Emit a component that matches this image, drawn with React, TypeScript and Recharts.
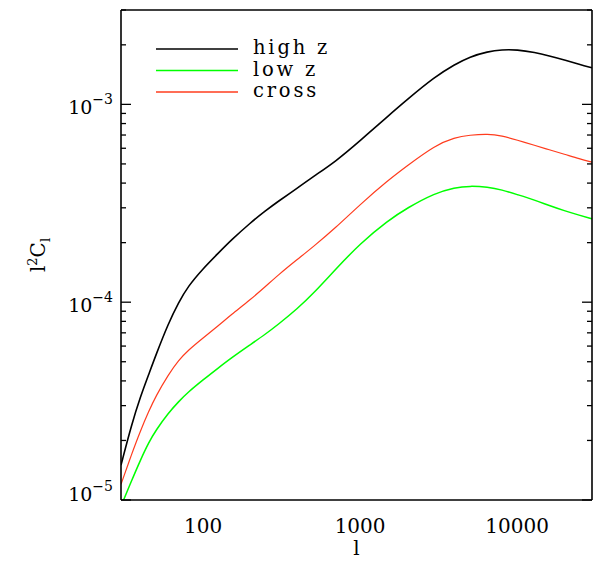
import { Legend, Line, LineChart, XAxis, YAxis } from "recharts";

// multipole values l
const ells = [
  30, 35, 40, 45, 50, 60, 70, 80, 100, 125, 150, 200, 250, 300, 400, 500, 700, 1000, 1500, 2000, 3000,
  4000, 5000, 6500, 8000, 10000, 13000, 16000, 20000, 25000, 30000,
];

// l^2 C_l for each bin
const highZ = [
  1.5e-5, 2.4e-5, 3.35e-5, 4.3e-5, 5.4e-5, 7.8e-5, 1.0e-4, 1.2e-4, 1.48e-4, 1.77e-4, 2.05e-4, 2.52e-4,
  2.9e-4, 3.23e-4, 3.78e-4, 4.3e-4, 5.15e-4, 6.55e-4, 8.7e-4, 1.06e-3, 1.38e-3, 1.59e-3, 1.74e-3,
  1.85e-3, 1.89e-3, 1.89e-3, 1.83e-3, 1.76e-3, 1.68e-3, 1.59e-3, 1.53e-3,
];
const lowZ = [
  0.93e-5, 1.25e-5, 1.6e-5, 1.95e-5, 2.25e-5, 2.75e-5, 3.15e-5, 3.5e-5, 4.05e-5, 4.65e-5, 5.2e-5,
  6.1e-5, 6.9e-5, 7.7e-5, 9.3e-5, 1.1e-4, 1.47e-4, 1.98e-4, 2.58e-4, 3.0e-4, 3.56e-4, 3.8e-4, 3.87e-4,
  3.82e-4, 3.7e-4, 3.5e-4, 3.28e-4, 3.08e-4, 2.9e-4, 2.75e-4, 2.64e-4,
];
const cross = [
  1.2e-5, 1.7e-5, 2.25e-5, 2.8e-5, 3.35e-5, 4.3e-5, 5.1e-5, 5.7e-5, 6.6e-5, 7.6e-5, 8.6e-5, 1.03e-4,
  1.2e-4, 1.37e-4, 1.65e-4, 1.9e-4, 2.38e-4, 3.12e-4, 4.12e-4, 4.9e-4, 6.2e-4, 6.8e-4, 7.0e-4,
  7.1e-4, 6.95e-4, 6.6e-4, 6.2e-4, 5.9e-4, 5.6e-4, 5.3e-4, 5.1e-4,
];

const xTicks = [
  30, 40, 50, 60, 70, 80, 90, 100, 200, 300, 400, 500, 600, 700, 800, 900, 1000, 2000, 3000, 4000,
  5000, 6000, 7000, 8000, 9000, 10000, 20000, 30000,
];
const yTicks = [
  1e-5, 2e-5, 3e-5, 4e-5, 5e-5, 6e-5, 7e-5, 8e-5, 9e-5, 1e-4, 2e-4, 3e-4, 4e-4, 5e-4, 6e-4, 7e-4,
  8e-4, 9e-4, 1e-3, 2e-3, 3e-3,
];
const xMajor = [100, 1000, 10000];
const yMajor = [1e-5, 1e-4, 1e-3];
const xDomain = [30, 30000];
const yDomain = [1e-5, 3e-3];
const seriesOrder = ["high z", "low z", "cross"];

const data = ells.map((l, i) => ({ l, high: highZ[i], low: lowZ[i], cross: cross[i] }));

const FONT = "'DejaVu Serif', serif";

const isMajor = (v: number) => Math.abs(Math.log10(v) - Math.round(Math.log10(v))) < 1e-6;

// inward tick mark, drawn inside the (mirrored) axis box
function MarkTick(props: any) {
  const { x, y, payload, side } = props;
  const len = isMajor(payload.value) ? 10 : 5;
  let end = { x, y };
  if (side === "bottom") end = { x, y: y - len };
  else if (side === "top") end = { x, y: y + len };
  else if (side === "left") end = { x: x + len, y };
  else end = { x: x - len, y };
  return <line x1={x} y1={y} x2={end.x} y2={end.y} stroke="#000" strokeWidth={1.3} />;
}

function BottomLabel(props: any) {
  const { x, y, payload } = props;
  return (
    <text x={x} y={y + 33} textAnchor="middle" fontFamily={FONT} fontSize={20} fill="#000">
      {payload.value}
    </text>
  );
}

function LeftLabel(props: any) {
  const { x, y, payload } = props;
  const v = payload.value;
  const exp = Math.round(Math.log10(v));
  const base = v === yDomain[0] ? y + 1 : y + 10;
  return (
    <text x={x - 8} y={base} textAnchor="end" fontFamily={FONT} fontSize={19} fill="#000">
      10
      <tspan dy={-10} fontSize={14}>
        {"\u2212" + Math.abs(exp)}
      </tspan>
    </text>
  );
}

function YTitle(props: any) {
  const vb = props.viewBox;
  const cx = vb.x + 45;
  const cy = vb.y + vb.height / 2;
  return (
    <text
      x={cx}
      y={cy}
      transform={`rotate(-90, ${cx}, ${cy})`}
      textAnchor="middle"
      fontFamily={FONT}
      fontSize={20}
      fill="#000"
    >
      l
      <tspan dy={-8} fontSize={13}>
        2
      </tspan>
      <tspan dy={8}>C</tspan>
      <tspan dy={5} fontSize={13}>
        l
      </tspan>
    </text>
  );
}

function LegendBox(props: any) {
  const items = (props.payload || [])
    .filter((it: any) => seriesOrder.includes(it.value))
    .sort((a: any, b: any) => seriesOrder.indexOf(a.value) - seriesOrder.indexOf(b.value));
  return (
    <svg width={200} height={80} style={{ display: "block" }}>
      {items.map((it: any, i: number) => {
        const y = 16 + i * 21.5;
        return (
          <g key={it.value}>
            <line x1={0} x2={82} y1={y} y2={y} stroke={it.color} strokeWidth={1.5} />
            <text x={97} y={y + 5} fontFamily={FONT} fontSize={19.5} letterSpacing={2.8} fill="#000">
              {it.value}
            </text>
          </g>
        );
      })}
    </svg>
  );
}

const axisLine = { stroke: "#000", strokeWidth: 1.6 };

const xMarkAxes = [
  { id: "markBottom", side: "bottom" },
  { id: "markTop", side: "top" },
];
const yMarkAxes = [
  { id: "markLeft", side: "left" },
  { id: "markRight", side: "right" },
];

export default function App() {
  return (
    <div style={{ position: "absolute", left: 0, top: 0, background: "#fff" }}>
      <LineChart width={600} height={567} data={data} margin={{ top: 10, right: 8, bottom: 0, left: 0 }}>
        {xMarkAxes.map((a) => (
          <XAxis
            key={a.id}
            xAxisId={a.id}
            orientation={a.side as any}
            mirror
            type="number"
            scale="log"
            domain={xDomain}
            allowDataOverflow
            ticks={xTicks}
            interval={0}
            height={12}
            tickSize={0}
            tickMargin={0}
            tickLine={false}
            axisLine={a.side === "top" ? axisLine : false}
            tick={<MarkTick side={a.side} />}
          />
        ))}
        {yMarkAxes.map((a) => (
          <YAxis
            key={a.id}
            yAxisId={a.id}
            orientation={a.side as any}
            mirror
            type="number"
            scale="log"
            domain={yDomain}
            allowDataOverflow
            ticks={yTicks}
            interval={0}
            width={12}
            tickSize={0}
            tickMargin={0}
            tickLine={false}
            axisLine={a.side === "right" ? axisLine : false}
            tick={<MarkTick side={a.side} />}
          />
        ))}
        <XAxis
          xAxisId="bottom"
          dataKey="l"
          type="number"
          scale="log"
          domain={xDomain}
          allowDataOverflow
          ticks={xMajor}
          interval={0}
          height={67}
          tickSize={0}
          tickMargin={0}
          tickLine={false}
          axisLine={axisLine}
          tick={<BottomLabel />}
          label={{ value: "l", position: "insideBottom", offset: 12, fontFamily: FONT, fontSize: 20, fill: "#000" }}
        />
        <YAxis
          yAxisId="left"
          type="number"
          scale="log"
          domain={yDomain}
          allowDataOverflow
          ticks={yMajor}
          interval={0}
          width={121}
          tickSize={0}
          tickMargin={0}
          tickLine={false}
          axisLine={axisLine}
          tick={<LeftLabel />}
          label={{ content: <YTitle /> }}
        />
        <Legend
          layout="vertical"
          align="center"
          verticalAlign="middle"
          content={<LegendBox />}
          wrapperStyle={{ left: 156, top: 33, width: 200, height: 80 }}
        />
        <Line
          xAxisId="bottom"
          yAxisId="left"
          name="high z"
          dataKey="high"
          type="basis"
          stroke="#000000"
          strokeWidth={1.6}
          dot={false}
          isAnimationActive={false}
        />
        <Line
          xAxisId="bottom"
          yAxisId="left"
          name="low z"
          dataKey="low"
          type="basis"
          stroke="#00ff00"
          strokeWidth={1.5}
          dot={false}
          isAnimationActive={false}
        />
        <Line
          xAxisId="bottom"
          yAxisId="left"
          name="cross"
          dataKey="cross"
          type="basis"
          stroke="#ff3c1e"
          strokeWidth={1.2}
          dot={false}
          isAnimationActive={false}
        />
      </LineChart>
    </div>
  );
}
